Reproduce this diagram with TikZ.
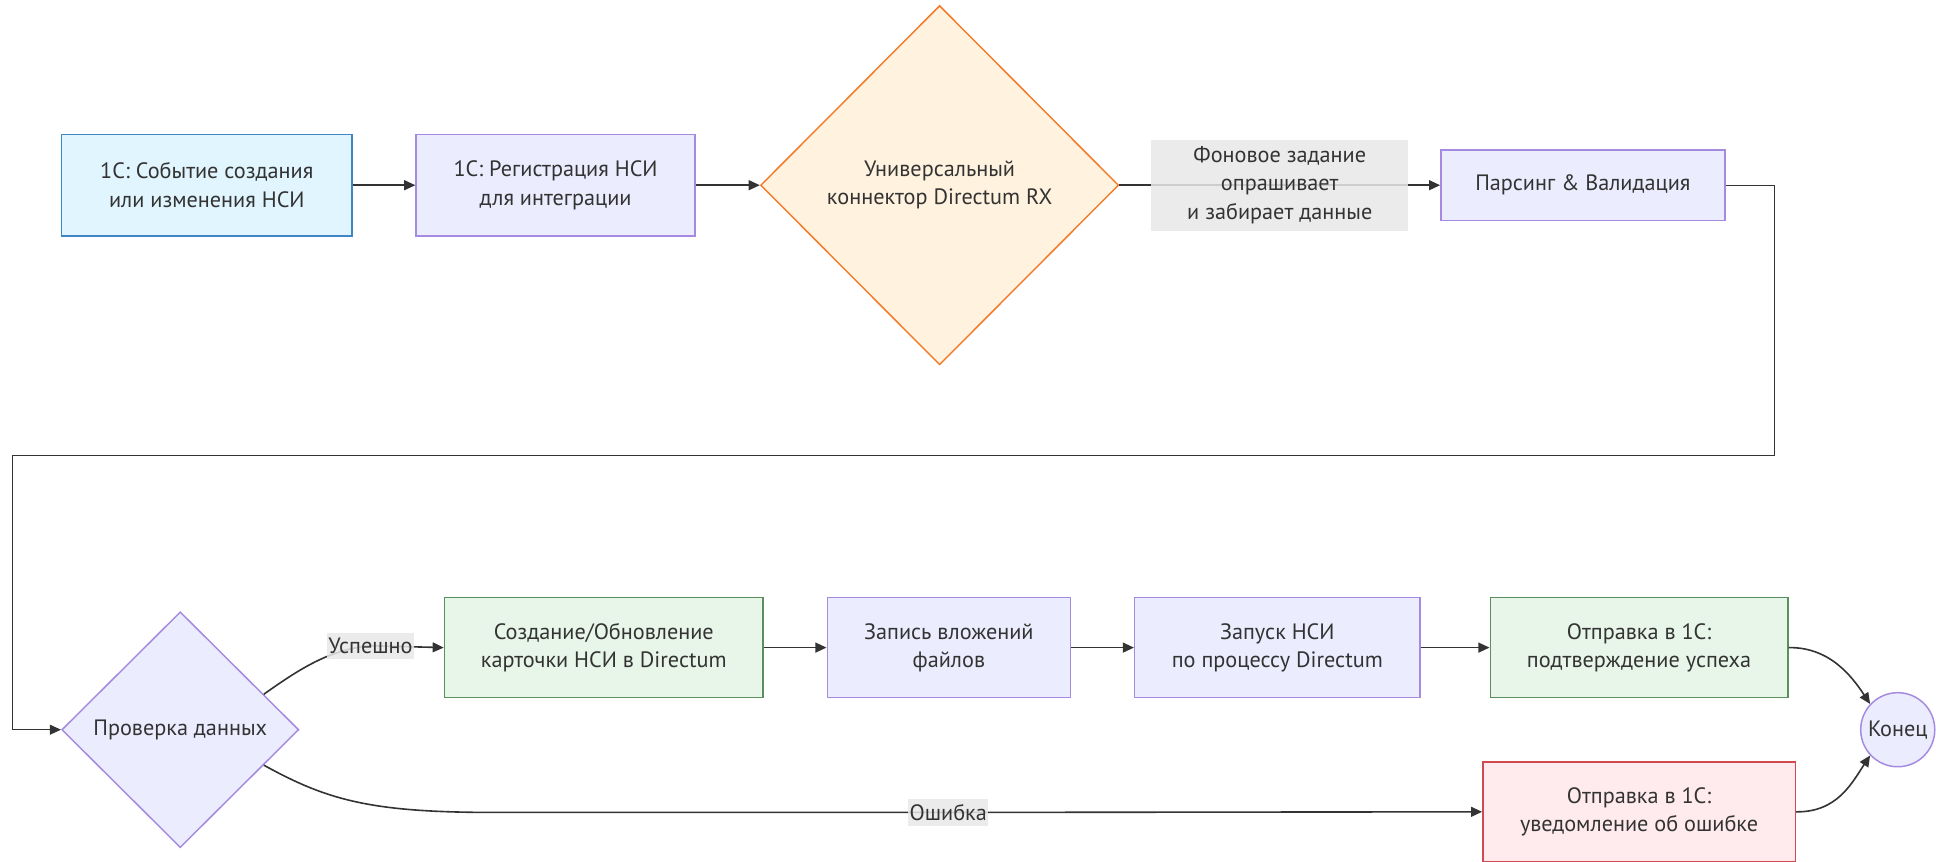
\documentclass[tikz,border=0pt]{standalone}
\usepackage{fontspec}
\setmainfont{PT Sans}
\usetikzlibrary{shapes.geometric,arrows.meta,calc}
\definecolor{txt}{HTML}{333333}
\definecolor{edgec}{HTML}{333333}
\definecolor{defFill}{HTML}{ECECFF}
\definecolor{defDraw}{HTML}{A58BE0}
\definecolor{blueFill}{HTML}{E1F5FE}
\definecolor{blueDraw}{HTML}{3E86C4}
\definecolor{orFill}{HTML}{FFF3E0}
\definecolor{orDraw}{HTML}{F47B2A}
\definecolor{grFill}{HTML}{E8F5E9}
\definecolor{grDraw}{HTML}{5B8F5B}
\definecolor{rdFill}{HTML}{FFEBEE}
\definecolor{rdDraw}{HTML}{D04A50}
\definecolor{lblFill}{HTML}{E8E8E8}
\tikzset{
  base/.style={align=center, text=txt, font=\fontsize{18}{23}\selectfont, inner sep=0pt, line width=1.2pt},
  proc/.style={base, rectangle, fill=defFill, draw=defDraw, minimum height=82pt},
  bluebox/.style={proc, fill=blueFill, draw=blueDraw},
  greenbox/.style={proc, fill=grFill, draw=grDraw},
  redbox/.style={proc, fill=rdFill, draw=rdDraw},
  decision/.style={base, diamond, fill=defFill, draw=defDraw},
  lbl/.style={align=center, text=txt, font=\fontsize{18}{23}\selectfont, fill=lblFill, fill opacity=0.85, text opacity=1, inner xsep=1pt, inner ysep=4pt},
  arr/.style={draw=edgec, line width=1.3pt, -{Triangle[length=9pt,width=8pt]}},
}
\begin{document}
\begin{tikzpicture}[x=1pt,y=-1pt]
\useasboundingbox (0,0) rectangle (1568,698);
% top row
\node[bluebox, minimum width=235pt] (n1) at (167.5,150) {1С: Событие создания\\или изменения НСИ};
\node[proc, minimum width=226pt] (n2) at (450,150) {1С: Регистрация НСИ\\для интеграции};
\node[decision, fill=orFill, draw=orDraw, minimum width=290pt, minimum height=291pt] (d1) at (761,150) {Универсальный\\коннектор Directum RX};
\node[proc, minimum width=230pt, minimum height=57pt] (n3) at (1282,150) {Парсинг \& Валидация};
% bottom row
\node[decision, minimum width=192pt, minimum height=191pt] (d2) at (146,591) {Проверка данных};
\node[greenbox, minimum width=258pt, minimum height=81pt] (n4) at (489,524.5) {Создание/Обновление\\карточки НСИ в Directum};
\node[proc, minimum width=197pt, minimum height=81pt] (n5) at (768.5,524.5) {Запись вложений\\файлов};
\node[proc, minimum width=231pt, minimum height=81pt] (n6) at (1034.5,524.5) {Запуск НСИ\\по процессу Directum};
\node[greenbox, minimum width=241pt, minimum height=81pt] (n7) at (1327.5,524.5) {Отправка в 1С:\\подтверждение успеха};
\node[redbox, minimum width=253pt, minimum height=81pt] (n8) at (1327.5,657.5) {Отправка в 1С:\\уведомление об ошибке};
\node[base, circle, fill=defFill, draw=defDraw, minimum size=60pt] (fin) at (1537,591) {Конец};
% connectors
\coordinate (c1) at (1437,369);
\coordinate (c2) at (10,369);
\draw[arr] (n1.east) -- (n2.west);
\draw[arr] (n2.east) -- (d1.west);
\draw[arr] (d1.east) -- (n3.west) node[lbl, pos=0.5, minimum width=208pt, minimum height=74pt] {Фоновое задание\\опрашивает\\и забирает данные};
\draw[arr, line width=1pt] (n3.east) -| (c1) -- (c2) |- (d2.west);
\draw[arr] (d2.23) .. controls (245,540) and (268,526) .. (300,523) node[lbl] {Успешно} -- (n4.west);
\draw[arr] (d2.-23) .. controls (265,648) and (300,658) .. (400,658) -- (768,658) node[lbl] {Ошибка} -- (n8.west);
\draw[arr] (n4.east) -- (n5.west);
\draw[arr] (n5.east) -- (n6.west);
\draw[arr] (n6.east) -- (n7.west);
\draw[arr] (n7.east) .. controls (1482,524) and (1500,548) .. (fin.137);
\draw[arr] (n8.east) .. controls (1488,658) and (1500,634) .. (fin.223);
\end{tikzpicture}
\end{document}
